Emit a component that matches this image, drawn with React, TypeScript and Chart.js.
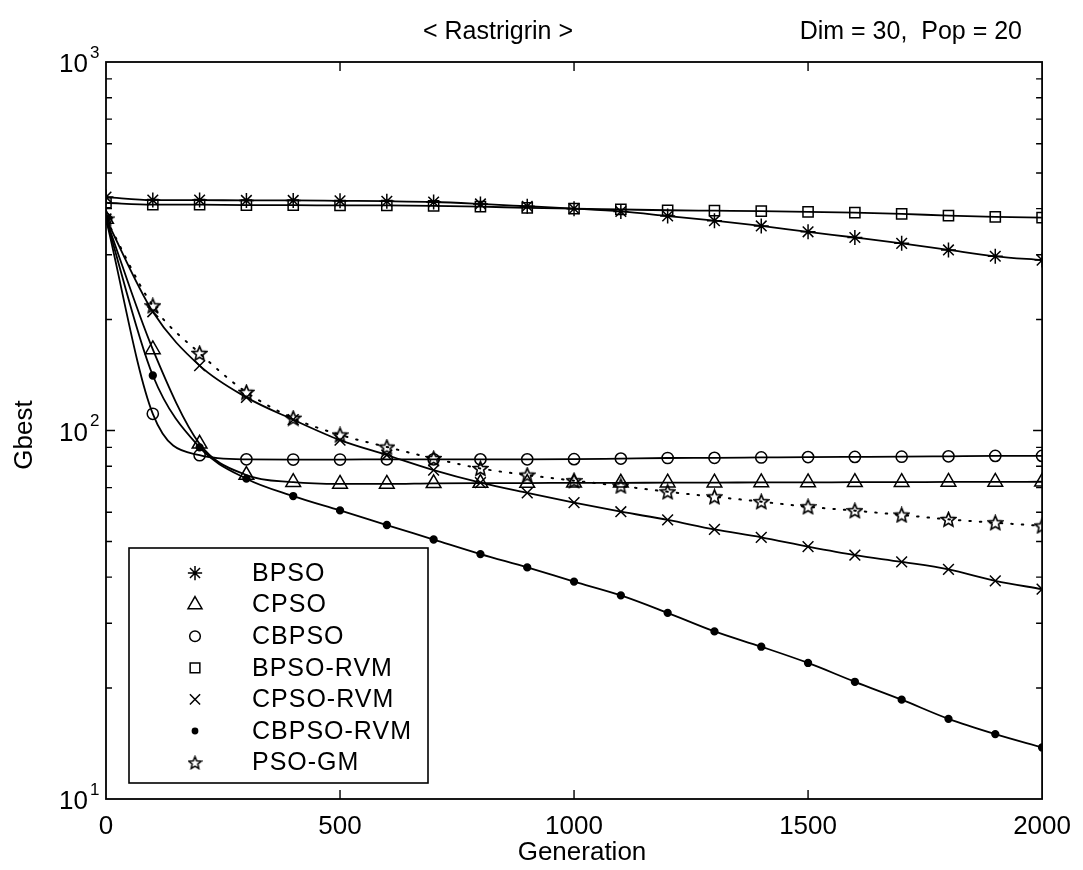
import React, { useEffect, useRef } from 'react';
import { Chart, registerables } from 'chart.js';

Chart.register(...registerables);

// Generation at which each marker is plotted
const GENERATIONS = [0, 100, 200, 300, 400, 500, 600, 700, 800, 900, 1000, 1100, 1200, 1300, 1400, 1500, 1600, 1700, 1800, 1900, 2000];

// Gbest per algorithm (Rastrigrin, Dim = 30, Pop = 20)
const BPSO = [430, 422, 422, 421, 421, 420, 419, 417, 412, 406, 400, 393, 382, 371, 359, 346, 334, 322, 309, 297, 290];
const CPSO = [375, 166, 92, 75.7, 72.4, 71.6, 71.6, 71.9, 72, 72, 72.1, 72.1, 72.2, 72.2, 72.3, 72.3, 72.4, 72.4, 72.5, 72.5, 72.6];
const CBPSO = [375, 111, 85.7, 83.5, 83.4, 83.4, 83.5, 83.5, 83.5, 83.5, 83.6, 83.9, 84.2, 84.3, 84.5, 84.7, 84.8, 84.9, 85.1, 85.3, 85.3];
const BPSO_RVM = [415, 410, 410, 409, 409, 408, 408, 407, 405, 402, 400, 398, 396, 395, 394, 392, 390, 387, 383, 380, 378];
const CPSO_RVM = [375, 210, 150, 123, 107, 94.2, 85.8, 78.1, 72.2, 67.7, 63.7, 60.2, 57.2, 53.9, 51.3, 48.4, 45.9, 44.0, 42.0, 39.1, 37.1];
const CBPSO_RVM = [375, 141, 90, 74, 66.4, 60.7, 55.4, 50.6, 46.2, 42.5, 38.9, 35.7, 32.0, 28.5, 25.9, 23.4, 20.8, 18.6, 16.5, 15.0, 13.8];
const PSO_GM = [375, 218, 162, 127, 108, 97.3, 90.2, 84.0, 78.9, 75.7, 73.1, 70.7, 68.2, 66.1, 64.1, 62.1, 60.6, 59.0, 57.4, 56.2, 55.1];

const SERIES_LABELS = ['BPSO', 'CPSO', 'CBPSO', 'BPSO-RVM', 'CPSO-RVM', 'CBPSO-RVM', 'PSO-GM'];
const SERIES_VALUES = [BPSO, CPSO, CBPSO, BPSO_RVM, CPSO_RVM, CBPSO_RVM, PSO_GM];

const X_TICKS = [0, 500, 1000, 1500, 2000];
const Y_DECADES = [10, 100, 1000];

const TITLE = '< Rastrigrin >';
const SUBTITLE = 'Dim = 30,  Pop = 20';
const X_TITLE = 'Generation';
const Y_TITLE = 'Gbest';

const FONT = "'Liberation Sans', Arial, Helvetica, sans-serif";

type MarkerKind = 'star' | 'triangle' | 'circle' | 'rect' | 'crossRot' | 'dot' | 'pentagram';
const MARKERS: { kind: MarkerKind; radius: number; dashed: boolean }[] = [
  { kind: 'star', radius: 7.5, dashed: false },
  { kind: 'triangle', radius: 8.5, dashed: false },
  { kind: 'circle', radius: 5.6, dashed: false },
  { kind: 'rect', radius: 7.2, dashed: false },
  { kind: 'crossRot', radius: 7.6, dashed: false },
  { kind: 'dot', radius: 3.4, dashed: false },
  { kind: 'pentagram', radius: 8, dashed: true },
];

function makePentagram(size: number, lw: number): HTMLCanvasElement {
  const c = document.createElement('canvas');
  c.width = size;
  c.height = size;
  const ctx = c.getContext('2d')!;
  const cx = size / 2;
  const cy = size / 2 + 0.6;
  const R = size / 2 - 1;
  const r = R * 0.45;
  ctx.beginPath();
  for (let i = 0; i < 10; i++) {
    const a = -Math.PI / 2 + (i * Math.PI) / 5;
    const rad = i % 2 === 0 ? R : r;
    const px = cx + Math.cos(a) * rad;
    const py = cy + Math.sin(a) * rad;
    if (i === 0) ctx.moveTo(px, py);
    else ctx.lineTo(px, py);
  }
  ctx.closePath();
  ctx.lineWidth = lw;
  ctx.lineJoin = 'miter';
  ctx.strokeStyle = '#000';
  ctx.stroke();
  return c;
}

function drawMarker(ctx: CanvasRenderingContext2D, kind: MarkerKind, x: number, y: number, r: number, img: HTMLCanvasElement) {
  ctx.save();
  ctx.strokeStyle = '#000';
  ctx.fillStyle = '#000';
  ctx.lineWidth = 1.5;
  ctx.beginPath();
  if (kind === 'star') {
    const d = r * Math.SQRT1_2;
    ctx.moveTo(x - r, y); ctx.lineTo(x + r, y);
    ctx.moveTo(x, y - r); ctx.lineTo(x, y + r);
    ctx.moveTo(x - d, y - d); ctx.lineTo(x + d, y + d);
    ctx.moveTo(x - d, y + d); ctx.lineTo(x + d, y - d);
    ctx.stroke();
  } else if (kind === 'triangle') {
    for (let i = 0; i < 3; i++) {
      const a = (i * 2 * Math.PI) / 3;
      const px = x + Math.sin(a) * r;
      const py = y - Math.cos(a) * r;
      if (i === 0) ctx.moveTo(px, py);
      else ctx.lineTo(px, py);
    }
    ctx.closePath();
    ctx.stroke();
  } else if (kind === 'circle') {
    ctx.arc(x, y, r, 0, Math.PI * 2);
    ctx.stroke();
  } else if (kind === 'rect') {
    const s = r * Math.SQRT1_2;
    ctx.rect(x - s, y - s, 2 * s, 2 * s);
    ctx.stroke();
  } else if (kind === 'crossRot') {
    const d = r * Math.SQRT1_2;
    ctx.moveTo(x - d, y - d); ctx.lineTo(x + d, y + d);
    ctx.moveTo(x - d, y + d); ctx.lineTo(x + d, y - d);
    ctx.stroke();
  } else if (kind === 'dot') {
    ctx.arc(x, y, r, 0, Math.PI * 2);
    ctx.fill();
  } else {
    ctx.drawImage(img, x - img.width / 2, y - img.height / 2);
  }
  ctx.restore();
}

export default function App() {
  const canvasRef = useRef<HTMLCanvasElement>(null);

  useEffect(() => {
    document.body.style.margin = '0';
    const canvas = canvasRef.current;
    if (!canvas) return;

    const plotStar = makePentagram(17, 1.6);
    const legendStar = makePentagram(15, 1.5);

    const datasets = SERIES_LABELS.map((label, i) => {
      const m = MARKERS[i];
      const pointStyle: any = m.kind === 'pentagram' ? plotStar : m.kind === 'dot' ? 'circle' : m.kind;
      return {
        label,
        data: GENERATIONS.map((g, j) => ({ x: g, y: SERIES_VALUES[i][j] })),
        borderColor: '#000',
        borderWidth: m.dashed ? 2 : 1.8,
        borderDash: m.dashed ? [1.5, 9] : [],
        borderCapStyle: (m.dashed ? 'round' : 'butt') as CanvasLineCap,
        cubicInterpolationMode: 'monotone' as const,
        pointStyle,
        pointRadius: m.radius,
        pointBorderWidth: 1.5,
        pointBorderColor: '#000',
        pointBackgroundColor: m.kind === 'dot' ? '#000' : 'rgba(0,0,0,0)',
        fill: false,
      };
    });

    const framePlugin = {
      id: 'frame',
      afterDatasetsDraw(chart: any) {
        const { ctx, chartArea } = chart;
        const { left, right, top, bottom } = chartArea;
        const xs = chart.scales.x;
        const ys = chart.scales.y;
        ctx.save();
        ctx.strokeStyle = '#000';
        ctx.lineWidth = 1.8;
        ctx.strokeRect(left, top, right - left, bottom - top);
        ctx.lineWidth = 1.4;
        ctx.beginPath();
        // inward ticks on bottom and top
        X_TICKS.slice(1, -1).forEach((g) => {
          const px = xs.getPixelForValue(g);
          ctx.moveTo(px, bottom); ctx.lineTo(px, bottom - 9);
          ctx.moveTo(px, top); ctx.lineTo(px, top + 9);
        });
        // inward log ticks on left and right
        [10, 100].forEach((dec) => {
          for (let k = 1; k <= 9; k++) {
            const v = k * dec;
            if (v === 10) continue;
            const py = ys.getPixelForValue(v);
            const len = k === 1 ? 9 : 6;
            ctx.moveTo(left, py); ctx.lineTo(left + len, py);
            ctx.moveTo(right, py); ctx.lineTo(right - len, py);
          }
        });
        ctx.stroke();
        ctx.restore();
      },
      afterDraw(chart: any) {
        const { ctx } = chart;
        const ys = chart.scales.y;
        ctx.save();
        ctx.fillStyle = '#000';

        // y tick labels as powers of ten
        Y_DECADES.forEach((v) => {
          const py = ys.getPixelForValue(v);
          const exp = String(Math.round(Math.log10(v)));
          ctx.font = `26px ${FONT}`;
          ctx.textAlign = 'right';
          ctx.textBaseline = 'middle';
          ctx.fillText('10', 88, py + 3);
          ctx.font = `17px ${FONT}`;
          ctx.textAlign = 'left';
          ctx.fillText(exp, 90, py - 9);
        });

        // titles
        ctx.font = `25px ${FONT}`;
        ctx.textBaseline = 'middle';
        ctx.textAlign = 'center';
        ctx.fillText(TITLE, 498, 32);
        ctx.textAlign = 'right';
        ctx.fillText(SUBTITLE, 1022, 32);

        ctx.font = `26px ${FONT}`;
        ctx.textAlign = 'center';
        ctx.fillText(X_TITLE, 582, 853);
        ctx.save();
        ctx.translate(25, 435);
        ctx.rotate(-Math.PI / 2);
        ctx.fillText(Y_TITLE, 0, 0);
        ctx.restore();

        // legend box
        const bx = 129, by = 548, bw = 299, bh = 235;
        ctx.fillStyle = '#fff';
        ctx.fillRect(bx, by, bw, bh);
        ctx.strokeStyle = '#000';
        ctx.lineWidth = 1.6;
        ctx.strokeRect(bx, by, bw, bh);
        ctx.fillStyle = '#000';
        ctx.font = `25px ${FONT}`;
        ctx.textAlign = 'left';
        ctx.textBaseline = 'middle';
        (ctx as any).letterSpacing = '1px';
        chart.data.datasets.forEach((ds: any, i: number) => {
          const rowY = 573 + i * 31.6;
          const m = MARKERS[i];
          drawMarker(ctx, m.kind, 195, rowY, m.kind === 'dot' ? 3.4 : m.radius * 0.95, legendStar);
          ctx.fillText(ds.label, 252, rowY + 1);
        });
        (ctx as any).letterSpacing = '0px';
        ctx.restore();
      },
    };

    const chart = new Chart(canvas, {
      type: 'line',
      data: { datasets: datasets as any },
      options: {
        responsive: false,
        animation: false,
        devicePixelRatio: 1,
        layout: { padding: { top: 62, right: 40, left: 0, bottom: 0 } },
        plugins: {
          legend: { display: false },
          tooltip: { enabled: false },
          title: { display: false },
        },
        scales: {
          x: {
            type: 'linear',
            min: 0,
            max: 2000,
            afterFit: (s: any) => { s.height = 71; },
            afterBuildTicks: (s: any) => { s.ticks = X_TICKS.map((v) => ({ value: v })); },
            ticks: {
              color: '#000',
              font: { family: FONT, size: 26 },
              padding: 12,
              maxRotation: 0,
              callback: (v: any) => String(v),
            },
            grid: { display: false, drawTicks: false },
            border: { display: false },
          },
          y: {
            type: 'logarithmic',
            min: 10,
            max: 1000,
            afterFit: (s: any) => { s.width = 106; },
            ticks: { display: false },
            grid: { display: false, drawTicks: false },
            border: { display: false },
          },
        },
      },
      plugins: [framePlugin],
    });

    return () => chart.destroy();
  }, []);

  return (
    <div style={{ position: 'absolute', left: 0, top: 0, width: 1083, height: 870, background: '#fff' }}>
      <canvas ref={canvasRef} width={1083} height={870} style={{ width: 1083, height: 870, display: 'block' }} />
    </div>
  );
}
